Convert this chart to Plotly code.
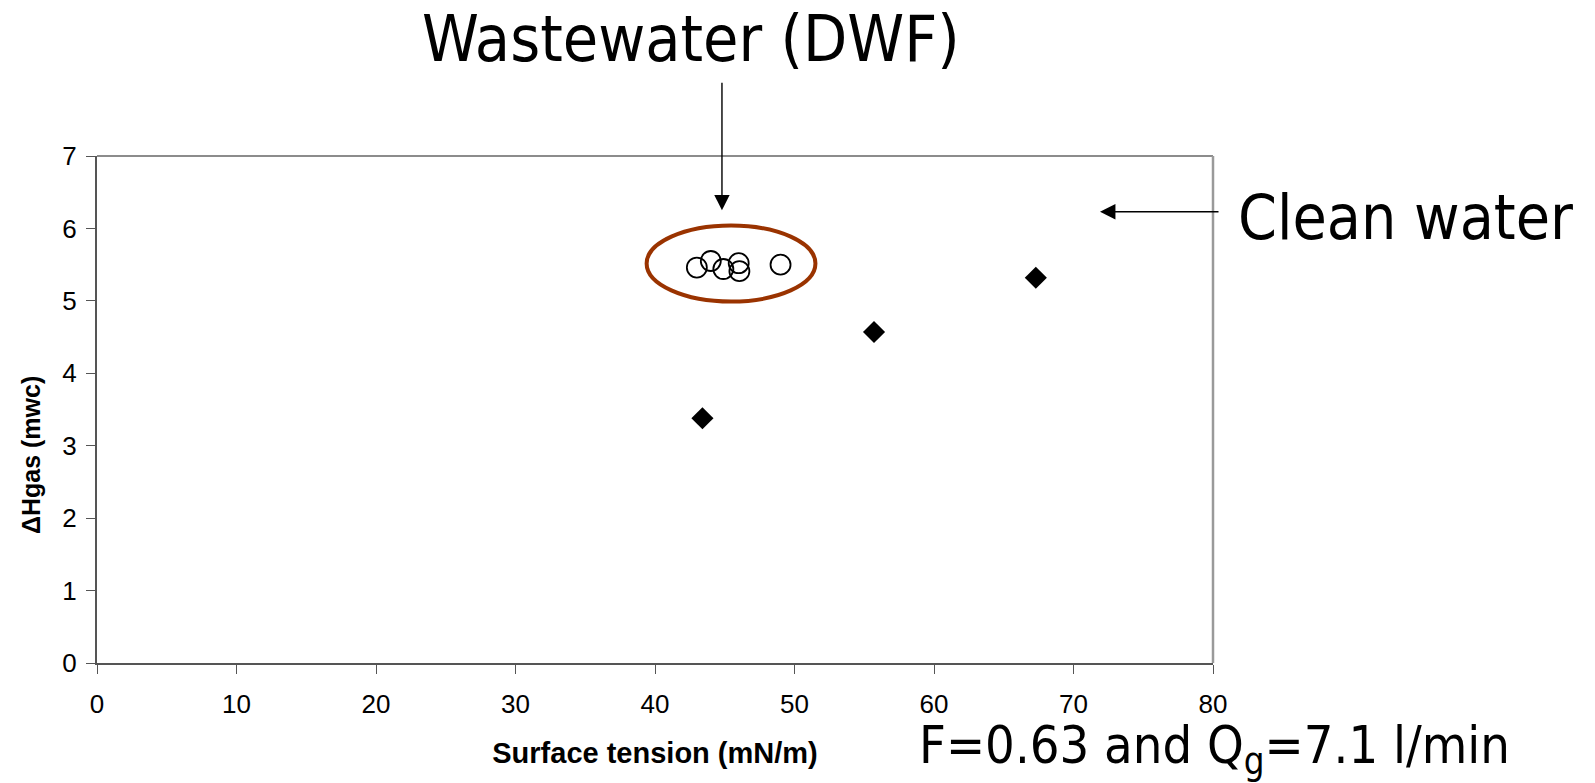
import plotly.graph_objects as go

# Clean water runs (filled diamonds)
clean_tension = [43.4, 55.7, 67.3]
clean_dh = [3.38, 4.57, 5.32]

# Wastewater (DWF) runs (open circles)
ww_tension = [43.0, 44.0, 44.9, 46.0, 46.05, 49.0]
ww_dh = [5.46, 5.55, 5.44, 5.52, 5.41, 5.50]

x_ticks = [0, 10, 20, 30, 40, 50, 60, 70, 80]
y_ticks = [0, 1, 2, 3, 4, 5, 6, 7]

W, H = 1595, 783
ML, MR, MT, MB = 97, 382, 156, 120
PW, PH = W - ML - MR, H - MT - MB


def px(x):
    return (x - ML) / PW


def py(y):
    return (H - MB - y) / PH


big_font = "Tahoma, 'DejaVu Sans Condensed', 'DejaVu Sans', sans-serif"
axis_font = "Arial, 'Liberation Sans', sans-serif"

fig = go.Figure()
fig.add_trace(go.Scatter(
    x=clean_tension, y=clean_dh, mode="markers", name="Clean water",
    marker=dict(symbol="diamond", size=17, color="black",
                line=dict(width=0)),
    cliponaxis=False,
))
fig.add_trace(go.Scatter(
    x=ww_tension, y=ww_dh, mode="markers", name="Wastewater (DWF)",
    marker=dict(symbol="circle-open", size=20, color="black",
                line=dict(width=1.8, color="black")),
    cliponaxis=False,
))

# ellipse around the wastewater cluster
fig.add_shape(type="circle", xref="x", yref="y",
              x0=39.4, x1=51.5, y0=4.99, y1=6.04,
              line=dict(color="#9a3300", width=4), layer="below")

# top and right frame edges
fig.add_shape(type="line", xref="paper", yref="paper", x0=0, x1=1, y0=1, y1=1,
              line=dict(color="#8c8c8c", width=2))
fig.add_shape(type="line", xref="paper", yref="paper", x0=1, x1=1, y0=0, y1=1,
              line=dict(color="#9a9a9a", width=2.5))

annotations = [
    dict(text="Wastewater (DWF)", xref="paper", yref="paper",
         x=px(691), y=py(39), xanchor="center", yanchor="middle",
         showarrow=False, font=dict(family=big_font, size=64, color="black")),
    dict(text="Clean water", xref="paper", yref="paper",
         x=px(1236), y=py(218), xanchor="left", yanchor="middle",
         showarrow=False, font=dict(family=big_font, size=62, color="black")),
    dict(text="F=0.63 and Q<sub>g</sub>=7.1 l/min", xref="paper", yref="paper",
         x=px(917), y=py(749), xanchor="left", yanchor="middle",
         showarrow=False, font=dict(family=big_font, size=52, color="black")),
    # y-axis title
    dict(text="<b>ΔHgas (mwc)</b>", xref="paper", yref="paper",
         x=px(31), y=py(455), xanchor="center", yanchor="middle",
         textangle=-90, showarrow=False,
         font=dict(family=axis_font, size=25, color="black")),
    # arrows
    dict(text="", x=44.8, y=6.25, xref="x", yref="y", ax=0, ay=-129,
         showarrow=True, arrowhead=2, arrowsize=2.2, arrowwidth=1.4,
         arrowcolor="black"),
    dict(text="", x=71.9, y=6.23, xref="x", yref="y", ax=120, ay=0,
         showarrow=True, arrowhead=2, arrowsize=2.2, arrowwidth=1.4,
         arrowcolor="black"),
]

axis_common = dict(
    showline=True, linecolor="#555555", linewidth=2,
    ticks="outside", ticklen=9, tickwidth=1.2, tickcolor="#555555",
    showgrid=False, zeroline=False,
    tickfont=dict(family=axis_font, size=26, color="black"),
)

fig.update_layout(
    width=W, height=H,
    margin=dict(l=ML, r=MR, t=MT, b=MB),
    paper_bgcolor="white", plot_bgcolor="white",
    showlegend=False,
    annotations=annotations,
    xaxis=dict(range=[0, 80], tickvals=x_ticks, ticklabelstandoff=8,
               title=dict(text="<b>Surface tension (mN/m)</b>", standoff=24,
                          font=dict(family=axis_font, size=29, color="black")),
               **axis_common),
    yaxis=dict(range=[0, 7], tickvals=y_ticks, ticklabelstandoff=4,
               **axis_common),
)

fig.write_html("out.html")
